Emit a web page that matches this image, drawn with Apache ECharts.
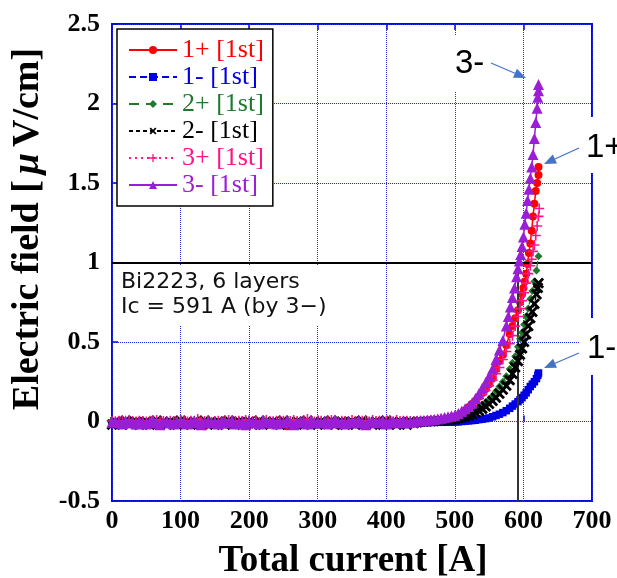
<!DOCTYPE html>
<html>
<head>
<meta charset="utf-8">
<script src="https://cdn.jsdelivr.net/npm/echarts@6/dist/echarts.min.js"></script>
<style>
html,body{margin:0;padding:0;background:#fff}
#chart{width:617px;height:578px}
</style>
</head>
<body>
<div id="chart"></div>
<script>
// V-I curves of the Bi2223 6-layer conductor, first run, six voltage taps.
const seriesNames = ['1+ [1st]', '1- [1st]', '2+ [1st]', '2- [1st]', '3+ [1st]', '3- [1st]'];
const seriesColors = ['#ff0000', '#0000e6', '#1f7a2e', '#000000', '#ff1486', '#9a1ed6'];

// Ic criterion and the critical current found from tap 3-
const criterionField = 1;
const icCurrent = 591;

// Currents [A] of the flat (superconducting) part
const baseCurrents = [0,5,10,15,20,25,30,35,40,45,50,55,60,65,70,75,80,85,90,95,
  100,105,110,115,120,125,130,135,140,145,150,155,160,165,170,175,180,185,190,195,
  200,205,210,215,220,225,230,235,240,245,250,255,260,265,270,275,280,285,290,295,
  300,305,310,315,320,325,330,335,340,345,350,355,360,365,370,375,380,385,390,395,
  400,405,410,415,420,425,430,435,440,445];

// Electric field [uV/cm] on the flat part, per tap
const base1p = [-0.015,-0.01,-0.02,-0.005,-0.015,-0.01,-0.015,-0.025,-0.01,-0.015,
  -0.005,-0.015,-0.02,-0.01,-0.015,-0.005,-0.015,-0.01,-0.02,-0.015,
  -0.01,-0.015,-0.005,-0.02,-0.015,-0.01,-0.015,-0.03,-0.01,-0.015,
  -0.005,-0.015,-0.01,-0.015,-0.02,-0.01,-0.015,-0.005,-0.015,-0.01,
  -0.02,-0.015,-0.01,-0.015,-0.005,-0.015,-0.02,-0.015,-0.01,-0.015,
  -0.015,-0.03,-0.01,-0.015,-0.005,-0.015,-0.01,-0.02,-0.015,-0.01,
  -0.015,-0.005,-0.02,-0.015,-0.01,-0.015,-0.025,-0.01,-0.015,-0.005,
  -0.015,-0.01,-0.02,-0.015,-0.01,-0.015,-0.005,-0.015,-0.01,-0.02,
  -0.015,-0.01,-0.015,-0.005,-0.015,-0.01,-0.015,-0.005,-0.01,-0.005];
const base1m = [-0.01,-0.005,-0.01,-0.015,-0.005,-0.01,-0.01,-0.005,-0.015,-0.01,
  -0.005,-0.01,-0.015,-0.01,-0.005,-0.01,-0.015,-0.01,-0.005,-0.01,
  -0.01,-0.015,-0.005,-0.01,-0.01,-0.005,-0.015,-0.01,-0.01,-0.005,
  -0.015,-0.01,-0.005,-0.01,-0.015,-0.01,-0.005,-0.01,-0.01,-0.015,
  -0.005,-0.01,-0.01,-0.015,-0.005,-0.01,-0.015,-0.005,-0.01,-0.01,
  -0.01,-0.005,-0.015,-0.01,-0.01,-0.005,-0.01,-0.015,-0.01,-0.005,
  -0.015,-0.01,-0.005,-0.01,-0.015,-0.01,-0.01,-0.005,-0.01,-0.015,
  -0.005,-0.01,-0.015,-0.01,-0.005,-0.01,-0.01,-0.015,-0.005,-0.01,
  -0.01,-0.015,-0.005,-0.01,-0.01,-0.005,-0.015,-0.01,-0.005,-0.01];
const base2p = [0,-0.005,-0.01,0,-0.005,0.005,-0.01,-0.005,0,-0.005,
  -0.01,0,-0.005,0.005,-0.005,-0.01,0,-0.005,-0.015,0,
  -0.005,0.005,-0.01,-0.005,0,-0.005,-0.01,0,-0.005,0.005,
  -0.005,-0.01,0,-0.005,-0.015,0,-0.005,0.005,-0.01,-0.005,
  0,-0.005,-0.01,0,-0.005,0.005,-0.005,-0.01,0,-0.005,
  -0.01,0,-0.005,-0.005,0.005,-0.01,0,-0.005,-0.015,0,
  -0.005,0.005,-0.01,0,-0.005,-0.005,-0.01,0,-0.005,0.005,
  -0.005,-0.01,0,-0.005,-0.01,0,-0.005,0.005,-0.01,-0.005,
  0,-0.005,-0.01,0,-0.005,0.005,-0.005,-0.01,0,-0.005];
const base2m = [-0.02,0,-0.01,-0.02,0.005,-0.015,-0.005,0,-0.02,-0.01,
  0,-0.02,-0.01,0.005,-0.015,-0.005,-0.02,0,-0.01,-0.02,
  0.005,-0.015,-0.005,-0.02,0,-0.01,-0.02,0.005,-0.015,-0.005,
  -0.02,0,-0.01,-0.02,0.005,-0.015,-0.005,0,-0.02,-0.01,
  0,-0.02,-0.01,0.005,-0.02,-0.005,-0.015,0,-0.01,-0.02,
  0.005,-0.015,-0.005,-0.02,0,-0.01,-0.02,0.005,-0.015,-0.005,
  -0.02,0,-0.01,-0.015,0.005,-0.02,-0.005,0,-0.02,-0.01,
  0,-0.02,-0.01,0.005,-0.015,-0.005,-0.02,0,-0.01,-0.02,
  0.005,-0.015,-0.005,-0.02,0,-0.01,-0.02,0,-0.01,-0.005];
const base3p = [0.003,0,0.005,0.003,-0.005,0.01,0.003,0,0.005,0.003,
  0,0.005,0.003,0.01,0,0.003,-0.005,0.005,0.003,0,
  0.01,0.003,0,0.005,0.003,0.015,0,0.003,0.005,-0.005,
  0.003,0.005,0,0.003,0.01,0.003,0,0.005,0.003,0.01,
  0,0.003,0.005,-0.005,0.003,0.01,0.003,0,0.005,0.003,
  0.005,0,0.003,0.01,0.003,0,0.005,0.015,0.003,0,
  0.003,0.005,0,0.003,0.01,0.003,-0.005,0.005,0.003,0,
  0.01,0.003,0,0.005,0.003,0,0.01,0.003,0.005,0,
  0.003,0.005,0,0.01,0.003,0,0.005,0.003,0,0.003];
const base3m = [-0.005,0,-0.01,-0.015,0.005,-0.01,-0.005,-0.015,0,-0.01,
  -0.015,-0.005,0.005,-0.01,-0.02,-0.005,0,-0.01,-0.015,-0.005,
  0,-0.01,-0.015,-0.005,0.005,-0.01,-0.02,-0.005,0,-0.01,
  -0.005,-0.015,0,-0.01,-0.005,0.005,-0.015,-0.01,-0.005,-0.02,
  0,-0.005,-0.01,-0.015,0.005,-0.005,-0.01,0,-0.015,-0.005,
  -0.01,0.005,-0.005,-0.02,-0.01,0,-0.005,-0.015,0.005,-0.01,
  -0.005,-0.01,0,-0.015,-0.005,0.01,-0.01,-0.005,-0.015,0,
  -0.01,-0.005,0.005,-0.01,-0.02,-0.005,0,-0.01,-0.005,0.005,
  -0.015,-0.005,0,-0.01,-0.005,0.005,-0.01,0,-0.005,0.005];

// Currents [A] where the transition starts (shared by all taps)
const riseCurrents = [450,455,460,465,470,475,480,485,490,495,500,505,510,515,520,525,
  530,535,540,545,550,555,560,565,570,575];

// Currents [A] near the top of each curve
const tail1p = [580,584,588,592,595,598,600,602,604,606,608,610,612,614,616,618,620,622,622];
const tail1m = [580,584,588,592,595,598,601,604,607,610,613,616,619,621,622];
const tail2p = [580,584,588,592,595,598,601,604,607,610,613,616,619,622];
const tail2m = [580,584,588,592,595,598,601,604,607,610,613,616,619,621,622];
const tail3p = [580,584,588,592,595,598,601,604,607,610,612,614,616,618,620,622,623];
const tail3m = [578,581,584,587,590,592,594,596,598,600,602,604,606,608,610,612,614,616,618,620,621,622,622];

// Electric field [uV/cm] from 450 A upward (riseCurrents then tail)
const rise1p = [-0.01,-0.005,0,0.002,0.005,0.008,0.01,0.014,0.018,0.024,
  0.03,0.04,0.05,0.07,0.09,0.11,0.13,0.155,0.18,0.205,
  0.235,0.27,0.33,0.38,0.42,0.48,
  0.55,0.6,0.65,0.7,0.75,0.8,0.84,0.88,0.93,0.99,1.06,1.12,1.2,1.29,1.37,1.45,1.5,1.55,1.6];
const rise1m = [-0.008,-0.006,-0.008,-0.005,-0.006,-0.005,-0.004,-0.005,-0.003,-0.004,
  -0.003,-0.002,0,0.002,0.004,0.006,0.008,0.012,0.015,0.018,
  0.022,0.03,0.038,0.046,0.056,0.068,
  0.083,0.097,0.11,0.125,0.137,0.15,0.165,0.18,0.2,0.22,0.235,0.25,0.27,0.29,0.305];
const rise2p = [0,0,0.003,0.004,0.005,0.006,0.008,0.01,0.012,0.016,
  0.02,0.025,0.032,0.04,0.05,0.065,0.078,0.092,0.105,0.12,
  0.14,0.16,0.19,0.22,0.25,0.285,
  0.33,0.37,0.41,0.47,0.52,0.56,0.61,0.66,0.71,0.77,0.82,0.88,0.95,1.04];
const rise2m = [0,0,0.002,0.003,0.004,0.005,0.006,0.008,0.01,0.012,
  0.015,0.02,0.026,0.032,0.038,0.045,0.055,0.068,0.08,0.095,
  0.11,0.13,0.15,0.175,0.2,0.225,
  0.26,0.3,0.34,0.38,0.42,0.46,0.5,0.55,0.6,0.65,0.69,0.74,0.8,0.84,0.87];
const rise3p = [0.005,0.003,0.005,0.008,0.01,0.012,0.015,0.018,0.022,0.026,
  0.03,0.035,0.045,0.06,0.08,0.1,0.12,0.145,0.17,0.195,
  0.225,0.26,0.3,0.34,0.39,0.44,
  0.49,0.54,0.6,0.66,0.71,0.76,0.81,0.87,0.93,0.98,1.02,1.07,1.11,1.17,1.23,1.29,1.34];
const rise3m = [0.005,0.005,0.01,0.01,0.012,0.015,0.02,0.025,0.03,0.035,
  0.04,0.05,0.065,0.08,0.095,0.115,0.145,0.175,0.21,0.245,
  0.285,0.33,0.39,0.45,0.51,0.6,
  0.66,0.72,0.78,0.84,0.91,0.96,1.01,1.05,1.1,1.16,1.24,1.31,1.39,1.46,1.53,1.6,1.68,1.78,1.88,1.97,2.04,2.08,2.12];

function buildCurve(base, rise, tail) {
  const pts = baseCurrents.map((c, k) => [c, base[k]]);
  riseCurrents.concat(tail).forEach((c, k) => pts.push([c, rise[k]]));
  return pts.filter(p => p[1] !== undefined);
}

const curves = [
  buildCurve(base1p, rise1p, tail1p),
  buildCurve(base1m, rise1m, tail1m),
  buildCurve(base2p, rise2p, tail2p),
  buildCurve(base2m, rise2m, tail2m),
  buildCurve(base3p, rise3p, tail3p),
  buildCurve(base3m, rise3m, tail3m)
];

const plusPath = 'path://M4.2,0H5.8V4.2H10V5.8H5.8V10H4.2V5.8H0V4.2H4.2Z';
const crossPath = 'path://M3.9,0H6.1V3.9H10V6.1H6.1V10H3.9V6.1H0V3.9H3.9Z';

const markerStyles = [
  { symbol: 'circle', size: 8, rotate: 0, dash: 'solid', width: 1.5 },
  { symbol: 'rect', size: 7.5, rotate: 0, dash: [7, 4], width: 1.2 },
  { symbol: 'diamond', size: 8, rotate: 0, dash: [10, 7], width: 1.2 },
  { symbol: crossPath, size: 13, rotate: 45, dash: [4, 3], width: 1.2 },
  { symbol: plusPath, size: 10, rotate: 0, dash: [2, 4], width: 1.2 },
  { symbol: 'triangle', size: 11, rotate: 0, dash: 'solid', width: 1.5 }
];

const frameBlue = '#0a0ad8';
const gridBlue = '#2030ee';
const serif = '"Liberation Serif", "Times New Roman", serif';

// later taps are stacked above earlier ones
const series = curves.map((data, k) => ({
  name: seriesNames[k],
  type: 'line',
  data: data,
  symbol: markerStyles[k].symbol,
  symbolSize: markerStyles[k].size,
  symbolRotate: markerStyles[k].rotate,
  showAllSymbol: true,
  clip: false,
  z: 3 + k,
  itemStyle: { color: seriesColors[k], borderWidth: 0 },
  lineStyle: { color: seriesColors[k], width: markerStyles[k].width, type: markerStyles[k].dash },
  emphasis: { disabled: true },
  animation: false
}));

// Criterion line and Ic marker
series.unshift({
  name: 'criterion',
  type: 'line',
  data: [],
  z: 2,
  silent: true,
  animation: false,
  markLine: {
    silent: true,
    symbol: 'none',
    label: { show: false },
    animation: false,
    data: [
      { yAxis: criterionField, lineStyle: { color: '#000', width: 2, type: 'solid' } },
      [
        { coord: [icCurrent, -0.5], lineStyle: { color: '#333', width: 2, type: 'solid' } },
        { coord: [icCurrent, criterionField] }
      ]
    ]
  }
});

function arrow(x1, y1, x2, y2) {
  const dx = x2 - x1, dy = y2 - y1;
  const len = Math.sqrt(dx * dx + dy * dy);
  const ux = dx / len, uy = dy / len;
  const hl = 12, hw = 5;
  const bx = x2 - ux * hl, by = y2 - uy * hl;
  return [
    { type: 'line', z: 110, silent: true,
      shape: { x1: x1, y1: y1, x2: bx, y2: by },
      style: { stroke: '#4472c4', lineWidth: 1.3 } },
    { type: 'polygon', z: 110, silent: true,
      shape: { points: [[x2, y2], [bx - uy * hw, by + ux * hw], [bx + uy * hw, by - ux * hw]] },
      style: { fill: '#4472c4' } }
  ];
}

const labelFont = '"Liberation Sans", Arial, sans-serif';

const graphics = [
  // white backing boxes of the text annotations
  { type: 'rect', z: 100, silent: true, shape: { x: 114, y: 265, width: 236, height: 60 }, style: { fill: '#fff' } },
  { type: 'rect', z: 100, silent: true, shape: { x: 445, y: 36, width: 60, height: 56 }, style: { fill: '#fff' } },
  { type: 'rect', z: 100, silent: true, shape: { x: 580, y: 117, width: 40, height: 56 }, style: { fill: '#fff' } },
  { type: 'rect', z: 100, silent: true, shape: { x: 580, y: 318, width: 40, height: 57 }, style: { fill: '#fff' } },
  { type: 'text', z: 105, silent: true, left: 121, top: 270,
    style: { text: 'Bi2223, 6 layers\nIc = 591 A (by 3\u2212)', font: '22px "DejaVu Sans", sans-serif', lineHeight: 25, fill: '#111' } },
  { type: 'text', z: 105, silent: true, x: 455, y: 64,
    style: { text: '3-', font: '33px ' + labelFont, fill: '#000', textVerticalAlign: 'middle' } },
  { type: 'text', z: 105, silent: true, x: 586, y: 148,
    style: { text: '1+', font: '33px ' + labelFont, fill: '#000', textVerticalAlign: 'middle' } },
  { type: 'text', z: 105, silent: true, x: 587, y: 349,
    style: { text: '1-', font: '33px ' + labelFont, fill: '#000', textVerticalAlign: 'middle' } },
  // axis titles
  { type: 'text', z: 105, silent: true, x: 353, y: 561,
    style: { text: 'Total current [A]', font: 'bold 37px ' + serif, fill: '#000',
      textAlign: 'center', textVerticalAlign: 'middle' } },
  { type: 'text', z: 105, silent: true, x: 28, y: 229, rotation: Math.PI / 2,
    style: { text: 'Electric field [{mu|\u03bc}V/cm]', font: 'bold 38px ' + serif, fill: '#000',
      textAlign: 'center', textVerticalAlign: 'middle',
      rich: { mu: { fontStyle: 'italic', fontWeight: 'bold', fontSize: 38, fontFamily: serif, padding: [0, 6] } } } }
].concat(arrow(491, 63, 526, 78), arrow(579, 148, 544, 164), arrow(579, 353, 544, 368));

const chart = echarts.init(document.getElementById('chart'), null, { renderer: 'canvas' });
chart.setOption({
  animation: false,
  backgroundColor: '#fff',
  grid: { left: 112, right: 25, top: 24, bottom: 77, show: true, borderColor: frameBlue, borderWidth: 2, backgroundColor: 'transparent' },
  legend: {
    orient: 'vertical', left: 117, top: 29,
    padding: [8, 9, 8, 11],
    itemWidth: 48, itemHeight: 10, itemGap: 1,
    backgroundColor: '#fff', borderColor: '#000', borderWidth: 1.5, borderRadius: 0,
    z: 50,
    selectedMode: false,
    textStyle: { fontFamily: serif, fontSize: 26 },
    data: seriesNames.map((n, k) => ({ name: n, textStyle: { color: seriesColors[k] } }))
  },
  xAxis: [{
    type: 'value', min: 0, max: 700, interval: 100,
    axisLine: { show: false },
    axisTick: { show: true, inside: true, length: 6, lineStyle: { color: frameBlue, width: 1.5 } },
    splitLine: { show: true, lineStyle: { color: gridBlue, type: 'dotted', width: 1 } },
    axisLabel: { color: '#000', fontFamily: serif, fontWeight: 'bold', fontSize: 26, margin: 7 }
  }, {
    type: 'value', position: 'top', min: 0, max: 700, interval: 100,
    axisLine: { show: false },
    axisTick: { show: true, inside: true, length: 6, lineStyle: { color: frameBlue, width: 1.5 } },
    splitLine: { show: false },
    axisLabel: { show: false }
  }],
  yAxis: {
    type: 'value', min: -0.5, max: 2.5, interval: 0.5,
    axisLine: { show: false },
    axisTick: { show: true, inside: true, length: 6, lineStyle: { color: frameBlue, width: 1.5 } },
    splitLine: { show: true, lineStyle: { color: gridBlue, type: 'dotted', width: 1 } },
    axisLabel: { color: '#000', fontFamily: serif, fontWeight: 'bold', fontSize: 26, margin: 12 }
  },
  graphic: graphics,
  series: series
});
</script>
</body>
</html>
